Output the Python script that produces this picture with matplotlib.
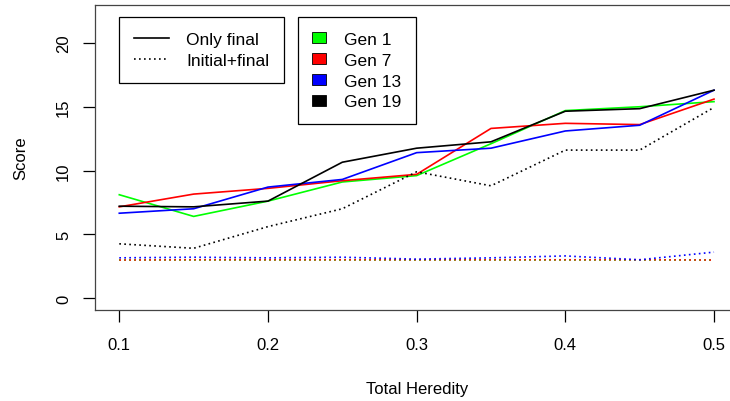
import matplotlib
matplotlib.use("Agg")
from matplotlib import pyplot as plt
from matplotlib.lines import Line2D
from matplotlib.patches import Patch

plt.rcParams['font.family'] = ['Liberation Sans', 'DejaVu Sans']

heredity = [0.1, 0.15, 0.2, 0.25, 0.3, 0.35, 0.4, 0.45, 0.5]

# scores, selection on final value only
final_gen1 = [8.1, 6.4, 7.6, 9.1, 9.6, 12.1, 14.7, 15.0, 15.4]
final_gen7 = [7.15, 8.15, 8.6, 9.2, 9.7, 13.3, 13.7, 13.6, 15.6]
final_gen13 = [6.65, 7.0, 8.7, 9.3, 11.4, 11.75, 13.1, 13.55, 16.3]
final_gen19 = [7.2, 7.15, 7.6, 10.65, 11.75, 12.25, 14.65, 14.85, 16.3]

# scores, selection on initial + final value
init_gen1 = [3.0, 3.0, 3.0, 3.0, 3.0, 3.0, 3.0, 3.0, 3.0]
init_gen7 = [2.98, 3.0, 3.0, 3.0, 3.0, 3.0, 3.0, 3.0, 2.98]
init_gen13 = [3.15, 3.2, 3.15, 3.2, 3.05, 3.15, 3.3, 3.0, 3.6]
init_gen19 = [4.25, 3.9, 5.6, 7.0, 9.9, 8.8, 11.6, 11.6, 14.95]

gen_labels = ['Gen 1', 'Gen 7', 'Gen 13', 'Gen 19']
gen_colors = ['#00ff00', '#ff0000', '#0000ff', '#000000']
y_ticks = [0, 5, 10, 15, 20]
x_ticks = [0.1, 0.2, 0.3, 0.4, 0.5]

fig = plt.figure(figsize=(7.3, 4.02), dpi=100)
ax = fig.add_axes([95.5 / 730, 91 / 402, 642.3 / 730, 305 / 402])

dotted = (0, (1, 2))
lw = 1.2
for ys, c in zip([final_gen1, final_gen7, final_gen13, final_gen19], gen_colors):
    ax.plot(heredity, ys, color=c, lw=lw)
for ys, c in zip([init_gen1, init_gen7, init_gen13, init_gen19], gen_colors):
    ax.plot(heredity, ys, color=c, lw=lw, linestyle=dotted)

ax.set_xlim(0.084, 0.516)
ax.set_ylim(-0.94, 22.98)
ax.set_xticks(x_ticks)
ax.set_xticklabels([str(t) for t in x_ticks])
ax.set_yticks(y_ticks)
ax.set_yticklabels([str(t) for t in y_ticks], rotation=90, va='center')
ax.tick_params(direction='out', length=8.5, width=0.9, labelsize=12, pad=9)
ax.tick_params(axis='x', pad=11)
for s in ax.spines.values():
    s.set_color('#444444')
    s.set_linewidth(0.9)

ax.set_xlabel('Total Heredity', fontsize=12, labelpad=21)
ax.set_ylabel('Score', fontsize=12, labelpad=20)

style_handles = [Line2D([], [], color='black', lw=lw),
                 Line2D([], [], color='black', lw=lw, linestyle=dotted)]
leg1 = ax.legend(style_handles, ['Only final', 'Initial+final'],
                 loc='upper left', bbox_to_anchor=(119.3 / 730, 1 - 18.3 / 402),
                 bbox_transform=fig.transFigure, borderaxespad=0,
                 fancybox=False, edgecolor='black', framealpha=1,
                 fontsize=12.5, handlelength=2.0, handletextpad=1.0,
                 labelspacing=0.33, borderpad=0.85)
leg1.get_frame().set_linewidth(0.9)
ax.add_artist(leg1)

gen_handles = [Patch(facecolor=c, edgecolor='black', lw=0.6) for c in gen_colors]
leg2 = ax.legend(gen_handles, gen_labels,
                 loc='upper left', bbox_to_anchor=(297.7 / 730, 1 - 18.3 / 402),
                 bbox_transform=fig.transFigure, borderaxespad=0,
                 fancybox=False, edgecolor='black', framealpha=1,
                 fontsize=12.5, handlelength=0.8, handleheight=0.6,
                 handletextpad=1.0, labelspacing=0.33, borderpad=0.85)
leg2.get_frame().set_linewidth(0.9)

fig.savefig('out.png', dpi=100)
